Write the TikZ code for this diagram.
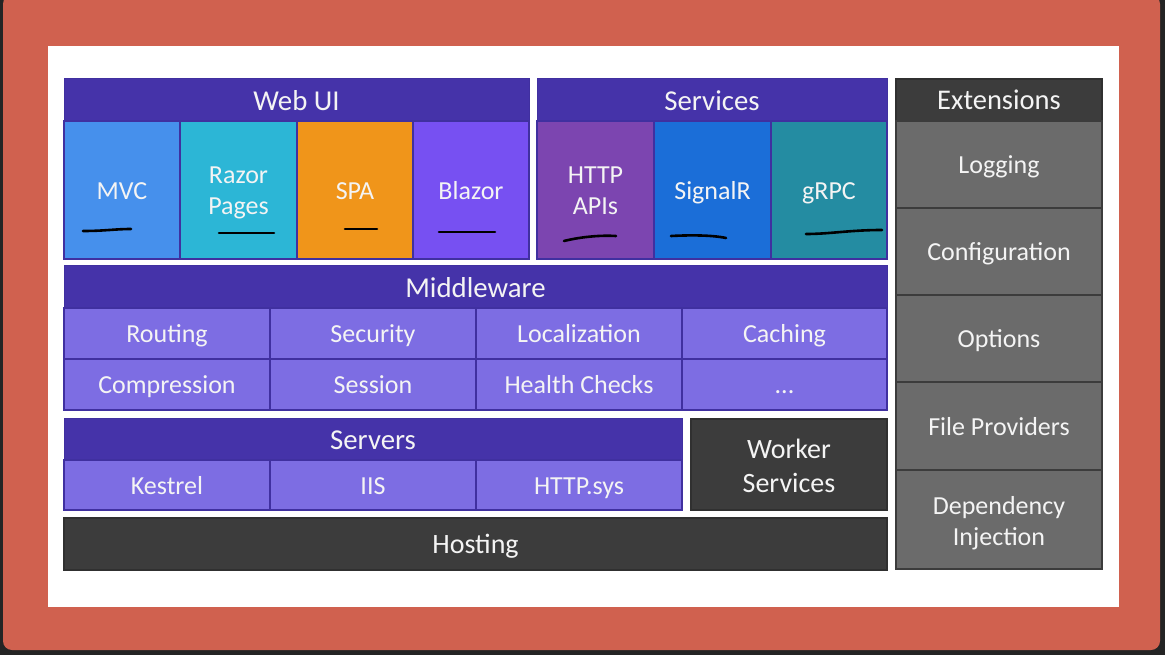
\documentclass[tikz,border=0pt]{standalone}
\usepackage{fontspec}
\setmainfont{Carlito}
\definecolor{frameDark}{HTML}{242424}
\definecolor{redBg}{HTML}{D0614F}
\definecolor{hdrPurple}{HTML}{4533A9}
\definecolor{cellPurple}{HTML}{7D6DE3}
\definecolor{edgePurple}{HTML}{4030A0}
\definecolor{mvcBlue}{HTML}{4690EC}
\definecolor{razorCyan}{HTML}{2CB6D6}
\definecolor{spaOrange}{HTML}{F0951A}
\definecolor{blazorViolet}{HTML}{7750F2}
\definecolor{httpPurple}{HTML}{7C45B0}
\definecolor{signalBlue}{HTML}{1B6ED8}
\definecolor{grpcTeal}{HTML}{248CA2}
\definecolor{darkBox}{HTML}{3C3C3C}
\definecolor{greyCell}{HTML}{6B6B6B}
\definecolor{txt}{HTML}{F4F4F4}
\newcommand\vstrut[1]{\rule[-0.2em]{0pt}{#1em}}
\tikzset{
  sh/.store in=\strutH, sh=1.1,
  blk/.style 2 args={anchor=north west, inner sep=0pt, outer sep=0pt,
    minimum width=#1pt, minimum height=#2pt, text=txt, align=center,
    font=\fontsize{26}{31}\selectfont,
    execute at begin node=\vstrut{\strutH}, execute at end node=\vstrut{0.2}},
  twoline/.style={text height=#1pt, text depth=0pt},
  hdr/.style={fill=hdrPurple, draw=edgePurple, line width=1pt,
    font=\fontsize{28.8}{32}\selectfont, sh=1.1},
  pcell/.style={fill=cellPurple, draw=edgePurple, line width=1.5pt},
  ccell/.style={draw=edgePurple, line width=1.5pt},
  gcell/.style={fill=greyCell, draw=darkBox, line width=2pt},
  dbox/.style={fill=darkBox, draw=darkBox!80!black, line width=1.5pt},
  scribble/.style={draw=black, line width=2.6pt, line cap=round},
}
\begin{document}
\begin{tikzpicture}[x=1pt,y=-1pt]
\useasboundingbox (0,0) rectangle (1165,655);
\fill[frameDark] (0,0) rectangle (1165,655);
\fill[redBg, rounded corners=9pt] (3,-5) rectangle (1160,650);
\fill[white] (48,46) rectangle (1119,607);

% Web UI
\node[blk={465}{42}, hdr] (webui) at (64,79) {Web UI};
\node[blk={116}{138}, ccell, fill=mvcBlue] (mvc) at (64,121) {MVC};
\node[blk={117}{138}, ccell, fill=razorCyan, twoline=49] (razor) at (180,121) {Razor\\Pages};
\node[blk={116}{138}, ccell, fill=spaOrange] (spa) at (297,121) {SPA};
\node[blk={116}{138}, ccell, fill=blazorViolet] (blazor) at (413,121) {Blazor};

% Services
\node[blk={350}{42}, hdr] (services) at (537,79) {Services};
\node[blk={117}{138}, ccell, fill=httpPurple, twoline=49] (http) at (537,121) {HTTP\\APIs};
\node[blk={117}{138}, ccell, fill=signalBlue] (signalr) at (654,121) {SignalR};
\node[blk={116}{138}, ccell, fill=grpcTeal] (grpc) at (771,121) {gRPC};

% Extensions
\node[blk={206}{42}, dbox, font=\fontsize{28.5}{32}\selectfont, sh=1.1] (ext) at (896,79) {Extensions};
\node[blk={206}{87}, gcell] (logging) at (896,121) {Logging};
\node[blk={206}{87}, gcell] (config) at (896,208) {Configuration};
\node[blk={206}{87}, gcell] (options) at (896,295) {Options};
\node[blk={206}{88}, gcell] (files) at (896,382) {File Providers};
\node[blk={206}{99}, gcell, twoline=51] (di) at (896,470) {Dependency\\Injection};

% Middleware
\node[blk={823}{42}, hdr] (middleware) at (64,266) {Middleware};
\node[blk={206}{51}, pcell] (routing) at (64,308) {Routing};
\node[blk={206}{51}, pcell] (security) at (270,308) {Security};
\node[blk={206}{51}, pcell] (local) at (476,308) {Localization};
\node[blk={205}{51}, pcell] (caching) at (682,308) {Caching};
\node[blk={206}{51}, pcell] (compr) at (64,359) {Compression};
\node[blk={206}{51}, pcell] (session) at (270,359) {Session};
\node[blk={206}{51}, pcell] (health) at (476,359) {Health Checks};
\node[blk={205}{51}, pcell] (more) at (682,359) {...};

% Servers
\node[blk={618}{42}, hdr] (servers) at (64,418) {Servers};
\node[blk={206}{50}, pcell] (kestrel) at (64,460) {Kestrel};
\node[blk={206}{50}, pcell] (iis) at (270,460) {IIS};
\node[blk={206}{50}, pcell] (httpsys) at (476,460) {HTTP.sys};

% Worker services and hosting
\node[blk={196}{91}, dbox, font=\fontsize{28}{34}\selectfont, twoline=55] (worker) at (691,419) {Worker\\Services};
\node[blk={823}{52}, dbox, font=\fontsize{28}{32}\selectfont, sh=1.1] (hosting) at (64,518) {Hosting};

% hand-drawn underlines
\draw[scribble] (83,231) .. controls (105,231) and (115,229) .. (131,229);
\draw[scribble] (219,233) -- (274,233);
\draw[scribble] (345,229) -- (377,229);
\draw[scribble] (439,232) -- (495,232);
\draw[scribble] (564,241) .. controls (580,237) and (600,235) .. (616,236);
\draw[scribble] (671,236) .. controls (690,235) and (712,235) .. (726,238);
\draw[scribble] (806,234) .. controls (830,234) and (850,230) .. (882,230);
\end{tikzpicture}
\end{document}
